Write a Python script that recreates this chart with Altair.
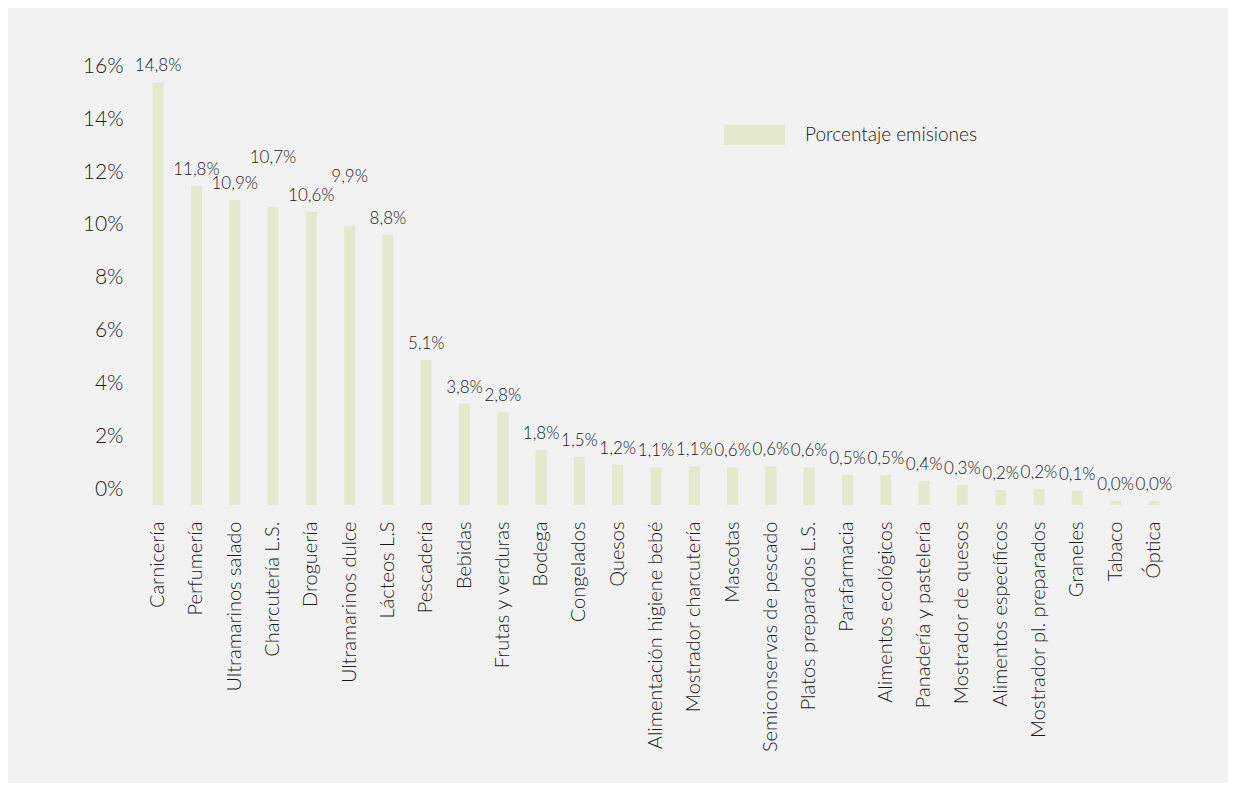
import altair as alt
import pandas as pd

categories = [
    "Carnicería", "Perfumería", "Ultramarinos salado", "Charcutería L.S.",
    "Droguería", "Ultramarinos dulce", "Lácteos L.S", "Pescadería", "Bebidas",
    "Frutas y verduras", "Bodega", "Congelados", "Quesos",
    "Alimentación higiene bebé", "Mostrador charcutería", "Mascotas",
    "Semiconservas de pescado", "Platos preparados L.S.", "Parafarmacia",
    "Alimentos ecológicos", "Panadería y pastelería", "Mostrador de quesos",
    "Alimentos específicos", "Mostrador pl. preparados", "Graneles", "Tabaco",
    "Óptica",
]
# bar heights as drawn (percent)
bar_values = [
    16.0, 12.09, 11.55, 11.3, 11.1, 10.58, 10.24, 5.49, 3.84, 3.51, 2.09,
    1.83, 1.53, 1.42, 1.46, 1.42, 1.46, 1.42, 1.14, 1.14, 0.91, 0.76, 0.57,
    0.61, 0.53, 0.15, 0.15,
]
# printed data labels
label_texts = [
    "14,8%", "11,8%", "10,9%", "10,7%", "10,6%", "9,9%", "8,8%", "5,1%",
    "3,8%", "2,8%", "1,8%", "1,5%", "1,2%", "1,1%", "1,1%", "0,6%", "0,6%",
    "0,6%", "0,5%", "0,5%", "0,4%", "0,3%", "0,2%", "0,2%", "0,1%", "0,0%",
    "0,0%",
]
series_name = "Porcentaje emisiones"
y_ticks = [0, 2, 4, 6, 8, 10, 12, 14, 16]

df = pd.DataFrame({
    "cat": categories,
    "val": bar_values,
    "lab": label_texts,
    "series": [series_name] * len(categories),
})

FONT = "Lato"
TXT = "#1a1a1a"
BAR = "#e3e9cd"

x = alt.X(
    "cat:N", sort=categories, title=None,
    scale=alt.Scale(paddingInner=0, paddingOuter=0),
    axis=alt.Axis(labelAngle=-90, labelAlign="right", labelBaseline="middle",
                  labelPadding=16, ticks=False, tickSize=0, domain=False,
                  labelFont=FONT, labelFontSize=20, labelFontWeight=300,
                  labelColor=TXT, labelLimit=400),
)
y = alt.Y(
    "val:Q", title=None, scale=alt.Scale(domain=[0, 16], nice=False),
    axis=alt.Axis(values=y_ticks, format=".0f", labelExpr="datum.label + '%'",
                  grid=False, ticks=False, tickSize=0, domain=False,
                  labelPadding=16, labelOffset=-16, labelFont=FONT,
                  labelFontSize=21, labelFontWeight=300, labelColor=TXT),
)

bars = alt.Chart(df).mark_bar(size=11).encode(
    x=x, y=y,
    color=alt.Color(
        "series:N", scale=alt.Scale(range=[BAR]), title=None,
        legend=alt.Legend(
            orient="none", legendX=585, legendY=22, padding=0,
            symbolType="M-1,-0.33H1V0.33H-1Z", symbolSize=3721,
            symbolStrokeWidth=0, symbolOpacity=1, labelOffset=20,
            labelLimit=400, labelFont=FONT, labelFontSize=19,
            labelFontWeight=300, labelColor=TXT,
        ),
    ),
)

# stagger crowded wide labels (every other one among the ~10-12% group)
raise_rule = "datum.idx % 2 == 0 && datum.val > 10 && datum.val < 12"
base_txt = alt.Chart(df).transform_window(idx="row_number()")
text_style = dict(baseline="bottom", font=FONT, fontSize=17, fontWeight=300,
                  color=TXT)
text_enc = dict(x=alt.X("cat:N", sort=categories), y="val:Q", text="lab:N")

texts_normal = base_txt.transform_filter("!(" + raise_rule + ")").mark_text(
    dy=-7, **text_style).encode(**text_enc)
texts_raised = base_txt.transform_filter(raise_rule).mark_text(
    dy=-40, **text_style).encode(**text_enc)

chart = (bars + texts_normal + texts_raised).properties(
    width=1034, height=422.6,
    padding={"left": 131, "top": 74.4, "right": 55, "bottom": 278},
    autosize=alt.AutoSizeParams(type="none"),
    background="#f2f2f2",
).configure_view(stroke=None)

chart.save("out.html", embed_options={"renderer": "svg", "actions": False})
